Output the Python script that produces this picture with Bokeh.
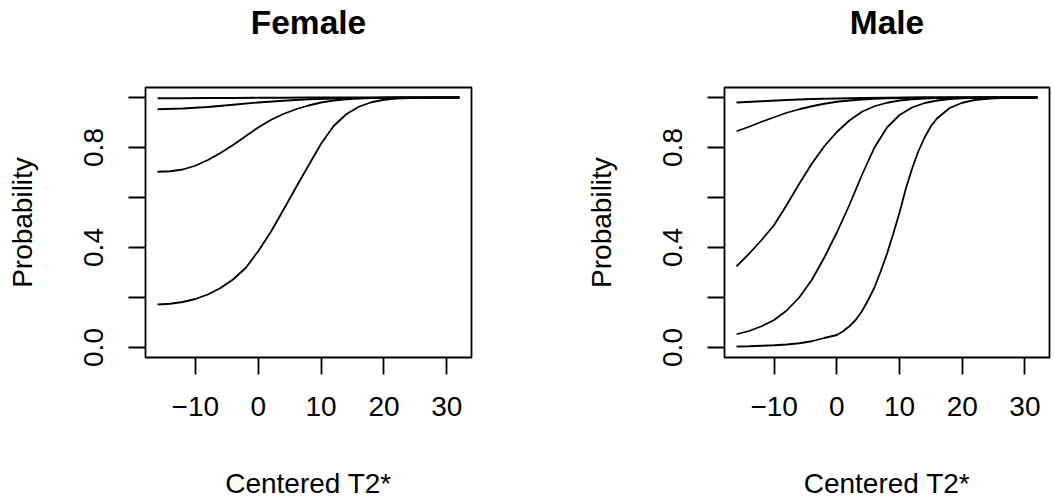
from bokeh.plotting import figure
from bokeh.layouts import row
from bokeh.models import Range1d, FixedTicker, LinearAxis
from bokeh.embed import file_html
from bokeh.resources import INLINE

# ---------------- data ----------------
x_coarse = [-16, -12, -8, -4, 0, 4, 8, 12, 16, 20, 24, 28, 32]
x_step2 = [-16, -14, -12, -10, -8, -6, -4, -2, 0, 2, 4, 6, 8, 10, 12, 14,
           16, 18, 20, 22, 24, 26, 28, 30, 32]
x_fine = [-16, -14, -12, -10, -8, -6, -4, -2, 0, 1, 2, 3, 4, 5, 6, 7, 8, 9,
          10, 11, 12, 13, 14, 15, 16, 18, 20, 22, 24, 26, 28, 30, 32]

female_1 = [0.997, 0.997, 0.998, 0.998, 0.999, 0.999, 1.0, 1.0, 1.0, 1.0, 1.0, 1.0, 1.0]
female_2 = [0.953, 0.956, 0.962, 0.971, 0.980, 0.987, 0.993, 0.996, 0.998, 0.999, 1.0, 1.0, 1.0]
female_3 = [0.703, 0.705, 0.712, 0.727, 0.750, 0.778, 0.810, 0.845, 0.880, 0.910,
            0.934, 0.953, 0.968, 0.980, 0.988, 0.993, 0.996, 0.998, 0.999, 1.0,
            1.0, 1.0, 1.0, 1.0, 1.0]
female_4 = [0.172, 0.175, 0.182, 0.194, 0.212, 0.238, 0.272, 0.318, 0.385, 0.462,
            0.550, 0.640, 0.728, 0.815, 0.886, 0.933, 0.963, 0.981, 0.991, 0.996,
            0.998, 0.999, 1.0, 1.0, 1.0]

male_1 = [0.980, 0.985, 0.990, 0.994, 0.996, 0.998, 0.999, 1.0, 1.0, 1.0, 1.0, 1.0, 1.0]
male_2 = [0.865, 0.883, 0.903, 0.921, 0.939, 0.953, 0.965, 0.975, 0.983, 0.988,
          0.992, 0.995, 0.997, 0.998, 0.999, 1.0, 1.0, 1.0, 1.0, 1.0,
          1.0, 1.0, 1.0, 1.0, 1.0]
male_3 = [0.325, 0.375, 0.430, 0.490, 0.570, 0.655, 0.735, 0.805, 0.862, 0.908,
          0.943, 0.965, 0.979, 0.988, 0.993, 0.996, 0.998, 0.999, 1.0, 1.0,
          1.0, 1.0, 1.0, 1.0, 1.0]
male_4 = [0.053, 0.066, 0.085, 0.110, 0.148, 0.200, 0.270, 0.360, 0.460, 0.570,
          0.690, 0.800, 0.880, 0.930, 0.960, 0.978, 0.988, 0.994, 0.997, 0.999,
          1.0, 1.0, 1.0, 1.0, 1.0]
male_5 = [0.004, 0.005, 0.007, 0.009, 0.012, 0.017, 0.025, 0.038, 0.050, 0.065,
          0.085, 0.110, 0.145, 0.190, 0.240, 0.305, 0.375, 0.455, 0.540, 0.635,
          0.715, 0.785, 0.840, 0.885, 0.917, 0.958, 0.979, 0.990, 0.995, 0.998,
          0.999, 1.0, 1.0]

titles = ["Female", "Male"]
x_label = "Centered T2*"
y_label = "Probability"
x_ticks = [-10, 0, 10, 20, 30]
x_tick_labels = {-10: "\u221210", 0: "0", 10: "10", 20: "20", 30: "30"}
y_ticks = [0, 0.2, 0.4, 0.6, 0.8, 1.0]
y_tick_labels = {0: "0.0", 0.2: "", 0.4: "0.4", 0.6: "", 0.8: "0.8", 1.0: ""}

FONT = "Liberation Sans"


def make_panel(title, series, border_left, border_right):
    p = figure(width=527, height=502, output_backend="svg", toolbar_location=None,
               x_range=Range1d(-17.92, 33.92), y_range=Range1d(-0.04, 1.04),
               min_border_left=border_left, min_border_right=border_right,
               min_border_top=87, min_border_bottom=145)
    p.grid.visible = False
    p.background_fill_color = "white"
    p.border_fill_color = "white"
    p.outline_line_color = "black"
    p.outline_line_width = 1.8

    xa = p.below[0]
    ya = p.left[0]
    for ax in (xa, ya):
        ax.axis_line_color = None
        ax.major_tick_out = 17
        ax.major_tick_in = 0
        ax.major_tick_line_width = 1.8
        ax.minor_tick_line_color = None
        ax.major_label_text_font = FONT
        ax.major_label_text_font_size = "28px"
        ax.major_label_text_color = "black"
        ax.axis_label_text_font = FONT
        ax.axis_label_text_font_size = "28px"
        ax.axis_label_text_font_style = "normal"
        ax.axis_label_text_color = "black"

    xa.ticker = FixedTicker(ticks=x_ticks)
    xa.major_label_overrides = x_tick_labels
    xa.axis_label = x_label
    xa.major_label_standoff = 22
    xa.axis_label_standoff = 49

    ya.ticker = FixedTicker(ticks=y_ticks)
    ya.major_label_overrides = y_tick_labels
    ya.major_label_orientation = "vertical"
    ya.axis_label = y_label
    ya.major_label_standoff = 26
    ya.axis_label_standoff = 43

    # panel title: an unticked axis above the frame carrying the bold label
    top = LinearAxis(ticker=FixedTicker(ticks=[]), axis_label=title)
    top.axis_line_color = None
    top.major_tick_line_color = None
    top.minor_tick_line_color = None
    top.major_tick_out = 0
    top.major_tick_in = 0
    top.major_label_text_font_size = "0px"
    top.axis_label_text_font = FONT
    top.axis_label_text_font_size = "33.5px"
    top.axis_label_text_font_style = "bold"
    top.axis_label_text_color = "black"
    top.axis_label_standoff = 47
    p.add_layout(top, "above")

    for xs, ys in series:
        p.line(xs, ys, line_color="black", line_width=1.8)
    return p


p1 = make_panel(titles[0], [(x_coarse, female_1), (x_coarse, female_2),
                            (x_step2, female_3), (x_step2, female_4)], 145, 56)
p2 = make_panel(titles[1], [(x_coarse, male_1), (x_step2, male_2), (x_step2, male_3),
                            (x_step2, male_4), (x_fine, male_5)], 197, 5)

layout = row(p1, p2)
open("out.html", "w").write(file_html(layout, INLINE))
